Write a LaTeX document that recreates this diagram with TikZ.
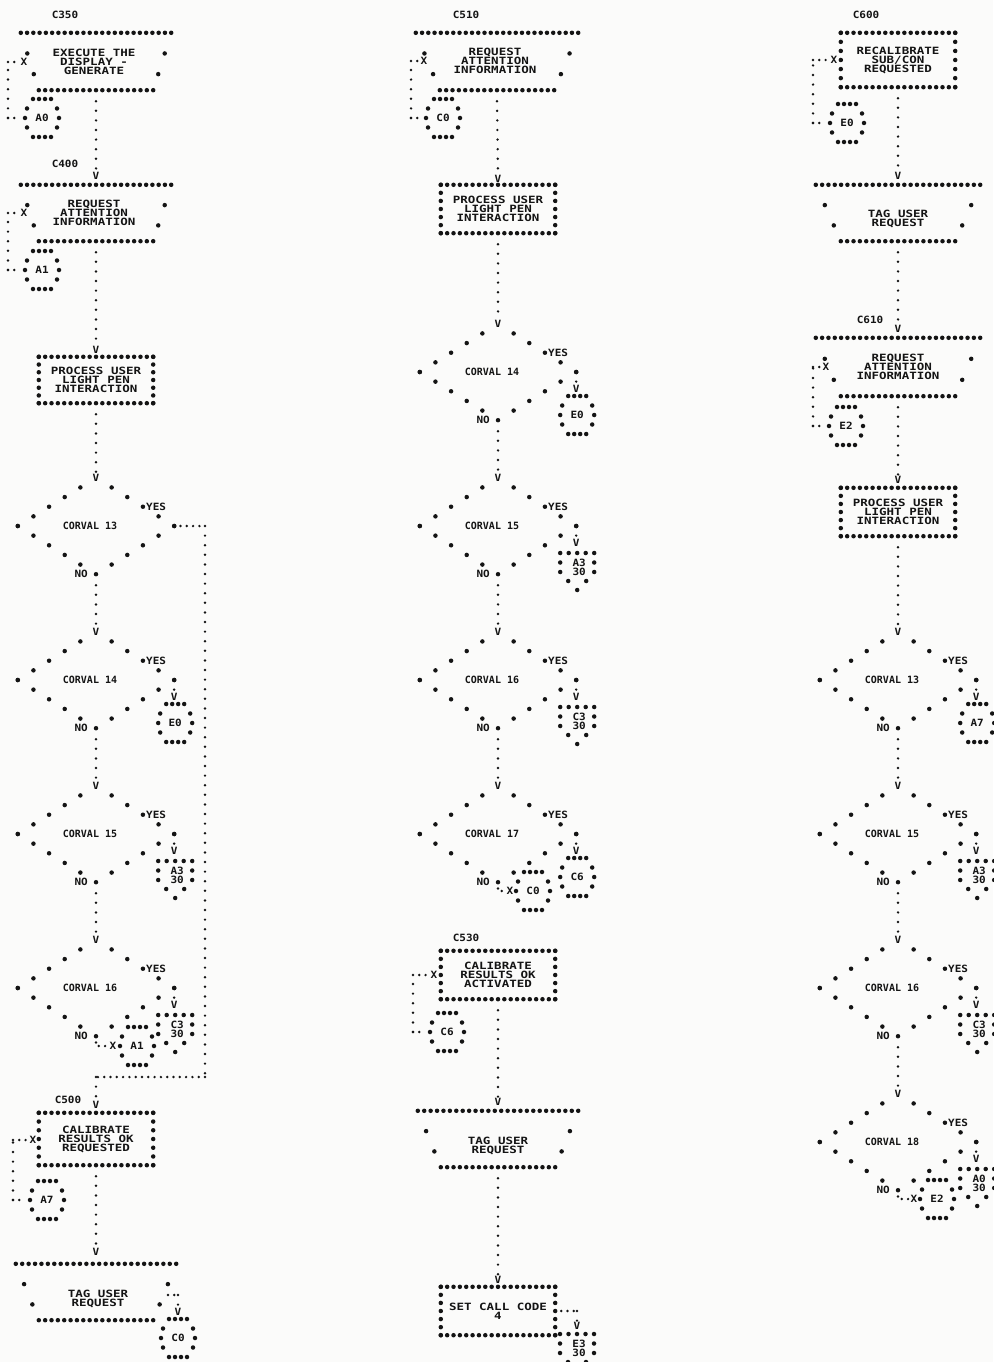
\documentclass[tikz,border=0pt]{standalone}
\usepackage{fontspec}
\usetikzlibrary{calc,shapes.geometric}
\newfontfamily\boxfam{DejaVu Sans Mono}[FakeStretch=1.25]
\newfontfamily\diafam{DejaVu Sans Mono}
\newfontfamily\labfam{DejaVu Sans Mono}[FakeStretch=1.1]
\newcommand\btxt{\boxfam\bfseries\fontsize{10}{9}\selectfont}
\newcommand\dtxt{\diafam\bfseries\fontsize{10}{9}\selectfont}
\newcommand\ltxt{\labfam\bfseries\fontsize{10}{9}\selectfont}
\definecolor{ink}{HTML}{141414}
\definecolor{paper}{HTML}{FBFBFA}
\tikzset{
  dotfill/.style={fill=ink},
  lab/.style={font=\ltxt, text=ink, inner sep=0pt, align=center},
  btext/.style={font=\btxt, text=ink, inner sep=0pt, align=center},
  dtext/.style={font=\dtxt, text=ink, inner sep=0pt},
  vflow/.style={draw=ink, line width=2.7pt, line cap=round, dash pattern=on 0pt off 9.6pt},
  hflow/.style={draw=ink, line width=2.7pt, line cap=round, dash pattern=on 0pt off 6.3pt},
  rbox/.style={btext, minimum width=114pt, minimum height=48pt},
  tbox/.style={btext, minimum width=160pt, minimum height=56pt},
  dia/.style={shape=diamond, minimum width=156pt, minimum height=96pt, inner sep=0pt},
  conn/.style={lab, minimum width=34pt, minimum height=38pt},
}
\newcommand\dr{2.25pt}
% dots along a segment
\newcommand\dotln[3]{\foreach \i in {0,...,#3}{\pgfmathsetmacro\dtf{\i/#3}\fill[dotfill] ($(#1)!\dtf!(#2)$) circle (\dr);}}
% rectangle box outline
\newcommand\rectdots[3]{\dotln{#1.north west}{#1.north east}{#2}\dotln{#1.south west}{#1.south east}{#2}\dotln{#1.north west}{#1.south west}{#3}\dotln{#1.north east}{#1.south east}{#3}}
% trapezoid outline: name, inset, top intervals
\newcommand\trapdots[3]{%
  \coordinate (#1-bl) at ($(#1.south west)+(#2pt,0pt)$);
  \coordinate (#1-br) at ($(#1.south east)+(-#2pt,0pt)$);
  \dotln{#1.north west}{#1.north east}{#3}
  \dotln{#1-bl}{#1-br}{18}
  \foreach \t in {0.36,0.72}{%
    \fill[dotfill] ($(#1.north west)!\t!(#1-bl)$) circle (\dr);
    \fill[dotfill] ($(#1.north east)!\t!(#1-br)$) circle (\dr);}}
% diamond outline (top apex left free for the arrow)
\newcommand\diadots[1]{\foreach \t in {0.2,0.4,0.6,0.8,1}{%
  \fill[dotfill] ($(#1.north)!\t!(#1.west)$) circle (\dr);
  \fill[dotfill] ($(#1.north)!\t!(#1.east)$) circle (\dr);
  \fill[dotfill] ($(#1.south)!\t!(#1.west)$) circle (\dr);
  \fill[dotfill] ($(#1.south)!\t!(#1.east)$) circle (\dr);}%
  \fill[dotfill] (#1.south) circle (\dr);}
% on-page connector ring
\newcommand\ringdots[1]{\foreach \x/\y in {-9/-19,-3/-19,3/-19,9/-19,-15/-9.5,15/-9.5,-17/0,17/0,-15/9.5,15/9.5,-9/19,-3/19,3/19,9/19}{%
  \fill[dotfill] ($(#1)+(\x,\y)$) circle (\dr);}}
% off-page connector (pentagon), #1 = top centre coordinate
\newcommand\offdots[1]{\foreach \x/\y in {-17/0,-8.5/0,0/0,8.5/0,17/0,-17/9.5,17/9.5,-17/19,17/19,-9/28,9/28,0/37}{%
  \fill[dotfill] ($(#1)+(\x,\y)$) circle (\dr);}}
% decision
\newcommand\corval[4]{%
  \node[dia] (#1) at (#2,#3) {};
  \diadots{#1}
  \node[dtext] (#1t) at ($(#1)+(-6,0)$) {CORVAL #4};
  \node[lab,anchor=west] (#1y) at ($(#1)+(50,-19)$) {YES};
  \node[lab,anchor=east] (#1n) at ($(#1)+(-8,48)$) {NO};}
\newcommand\yesring[3]{%
  \node[lab] (#2v) at ($(#1.east)+(0,17)$) {V};
  \draw[vflow] (#1.east) -- (#2v.north);
  \node[conn] (#2) at ($(#1.east)+(1,43)$) {#3};
  \ringdots{#2}}
\newcommand\yesoff[4]{%
  \node[lab] (#2v) at ($(#1.east)+(0,17)$) {V};
  \draw[vflow] (#1.east) -- (#2v.north);
  \coordinate (#2top) at ($(#1.east)+(1,27)$);
  \offdots{#2top}
  \node[lab] (#2) at ($(#1.east)+(3,41)$) {#3\\#4};}
\newcommand\downflow[2]{\draw[vflow] ($(#1.south)+(0,11)$) -- (#2.north);}

\begin{document}
\begin{tikzpicture}[x=1pt,y=-1pt]
\fill[paper] (0,0) rectangle (993,1362);
\useasboundingbox (0,0) rectangle (993,1362);

%%%%%%%%%%%%%%%% COLUMN 1 %%%%%%%%%%%%%%%%
\node[lab] (lC350) at (65,15) {C350};
\node[tbox, minimum width=150pt, minimum height=57pt] (b1) at (96,61.5) {};
\trapdots{b1}{18}{24}
\node[btext] (b1t) at (94,62) {EXECUTE THE\\DISPLAY -\\GENERATE};
\node[lab] (x1) at (24,62) {X};
\node[conn] (a0) at (42,118) {A0};
\ringdots{a0}
\coordinate (j1a) at (8,62);
\coordinate (j1b) at (8,118);
\draw[vflow] (j1b) -- (j1a);
\draw[hflow, shorten >=1pt] (j1a) -- (x1.west);
\draw[hflow, shorten >=6pt] (j1b) -- (a0.west);

\node[lab] (lC400) at (65,164) {C400};
\node[lab] (v1) at (96,176) {V};
\downflow{b1}{v1}
\node[tbox, minimum width=150pt] (b2) at (96,213) {};
\trapdots{b2}{18}{24}
\node[btext] (b2t) at (94,213) {REQUEST\\ATTENTION\\INFORMATION};
\node[lab] (x2) at (24,213) {X};
\node[conn] (a1) at (42,270) {A1};
\ringdots{a1}
\coordinate (j2a) at (8,213);
\coordinate (j2b) at (8,270);
\draw[vflow] (j2b) -- (j2a);
\draw[hflow, shorten >=1pt] (j2a) -- (x2.west);
\draw[hflow, shorten >=6pt] (j2b) -- (a1.west);

\node[lab] (v2) at (96,350) {V};
\downflow{b2}{v2}
\node[rbox, minimum height=46pt] (p1) at (96,380) {PROCESS USER\\LIGHT PEN\\INTERACTION};
\rectdots{p1}{18}{6}
\node[lab] (v3) at (96,478) {V};
\downflow{p1}{v3}

\corval{d13}{96}{526}{13}
\node[lab] (v4) at (96,632) {V};
\downflow{d13}{v4}
\corval{d14}{96}{680}{14}
\yesring{d14}{e0a}{E0}
\node[lab] (v5) at (96,786) {V};
\downflow{d14}{v5}
\corval{d15}{96}{834}{15}
\yesoff{d15}{a3a}{A3}{30}
\node[lab] (v6) at (96,940) {V};
\downflow{d15}{v6}
\corval{d16}{96}{988}{16}
\yesoff{d16}{c3a}{C3}{30}
\node[lab] (x16) at (113,1046) {X};
\node[conn] (a1b) at (137,1046) {A1};
\ringdots{a1b}
\draw[hflow] (d16.south) |- (x16.west);

% YES of CORVAL 13 round to C500
\coordinate (l1) at (205,526);
\coordinate (l2) at (205,1077);
\coordinate (l3) at (96,1077);
\draw[hflow] (d13.east) -- (l1);
\draw[vflow] (l1) -- (l2);
\draw[hflow] (l2) -- (l3);
\node[lab] (lC500) at (68,1100) {C500};
\node[lab] (v500) at (96,1105) {V};
\draw[vflow] (l3) -- (v500.north);
\node[rbox, minimum height=52pt] (c500) at (96,1139) {CALIBRATE\\RESULTS OK\\REQUESTED};
\rectdots{c500}{18}{6}
\node[lab] (x500) at (33,1140) {X};
\node[conn] (a7) at (47,1200) {A7};
\ringdots{a7}
\coordinate (j5a) at (13,1140);
\coordinate (j5b) at (13,1200);
\draw[vflow] (j5b) -- (j5a);
\draw[hflow, shorten >=1pt] (j5a) -- (x500.west);
\draw[hflow, shorten >=6pt] (j5b) -- (a7.west);

\node[lab] (v7) at (96,1252) {V};
\downflow{c500}{v7}
\node[tbox] (t1) at (96,1292) {};
\trapdots{t1}{23}{25}
\node[btext] (t1t) at (98,1299) {TAG USER\\REQUEST};
\coordinate (t1x) at (168,1295);
\coordinate (t1c) at (178,1295);
\draw[hflow] (t1x) -- (t1c);
\node[lab] (vc0) at (178,1312) {V};
\draw[vflow] (t1c) -- (vc0.north);
\node[conn] (c0a) at (178,1338) {C0};
\ringdots{c0a}

%%%%%%%%%%%%%%%% COLUMN 2 %%%%%%%%%%%%%%%%
\node[lab] (lC510) at (466,15) {C510};
\node[tbox, minimum width=162pt, minimum height=57pt] (b3) at (497,61.5) {};
\trapdots{b3}{24}{26}
\node[btext] (b3t) at (495,61) {REQUEST\\ATTENTION\\INFORMATION};
\node[lab] (x3) at (424,61) {X};
\node[conn] (c0b) at (443,118) {C0};
\ringdots{c0b}
\coordinate (j3a) at (411,61);
\coordinate (j3b) at (411,118);
\draw[vflow] (j3b) -- (j3a);
\draw[hflow, shorten >=1pt] (j3a) -- (x3.west);
\draw[hflow, shorten >=6pt] (j3b) -- (c0b.west);

\node[lab] (v8) at (498,179) {V};
\downflow{b3}{v8}
\node[rbox] (p2) at (498,209) {PROCESS USER\\LIGHT PEN\\INTERACTION};
\rectdots{p2}{18}{6}
\node[lab] (v9) at (498,324) {V};
\downflow{p2}{v9}

\corval{e14}{498}{372}{14}
\yesring{e14}{e0b}{E0}
\node[lab] (v10) at (498,478) {V};
\downflow{e14}{v10}
\corval{e15}{498}{526}{15}
\yesoff{e15}{a3b}{A3}{30}
\node[lab] (v11) at (498,632) {V};
\downflow{e15}{v11}
\corval{e16}{498}{680}{16}
\yesoff{e16}{c3b}{C3}{30}
\node[lab] (v12) at (498,786) {V};
\downflow{e16}{v12}
\corval{e17}{498}{834}{17}
\yesring{e17}{c6a}{C6}
\node[lab] (x17) at (510,891) {X};
\node[conn] (c0c) at (533,891) {C0};
\ringdots{c0c}
\draw[hflow] (e17.south) |- (x17.west);

\node[lab] (lC530) at (466,938) {C530};
\node[rbox] (c530) at (498,975) {CALIBRATE\\RESULTS OK\\ACTIVATED};
\rectdots{c530}{18}{6}
\node[lab] (x530) at (434,975) {X};
\node[conn] (c6b) at (447,1032) {C6};
\ringdots{c6b}
\coordinate (j4a) at (413,975);
\coordinate (j4b) at (413,1032);
\draw[vflow] (j4b) -- (j4a);
\draw[hflow, shorten >=1pt] (j4a) -- (x530.west);
\draw[hflow, shorten >=6pt] (j4b) -- (c6b.west);

\node[lab] (v13) at (498,1102) {V};
\downflow{c530}{v13}
\node[tbox] (t2) at (498,1139) {};
\trapdots{t2}{23}{25}
\node[btext] (t2t) at (498,1146) {TAG USER\\REQUEST};
\node[lab] (v14) at (498,1280) {V};
\downflow{t2}{v14}
\node[rbox] (s1) at (498,1311) {SET CALL CODE\\4};
\rectdots{s1}{18}{6}
\coordinate (s1c) at (577,1311);
\draw[hflow, shorten <=6pt] (s1.east) -- (s1c);
\node[lab] (ve3) at (577,1326) {V};
\draw[vflow] (s1c) -- (ve3.north);
\coordinate (e3top) at (577,1334);
\offdots{e3top}
\node[lab] (e3) at (579,1348) {E3\\30};

%%%%%%%%%%%%%%%% COLUMN 3 %%%%%%%%%%%%%%%%
\node[lab] (lC600) at (866,15) {C600};
\node[rbox, minimum height=54pt] (r600) at (898,60) {RECALIBRATE\\SUB/CON\\REQUESTED};
\rectdots{r600}{18}{6}
\node[lab] (x600) at (834,60) {X};
\node[conn] (e0c) at (847,123) {E0};
\ringdots{e0c}
\coordinate (j6a) at (813,60);
\coordinate (j6b) at (813,123);
\draw[vflow] (j6b) -- (j6a);
\draw[hflow, shorten >=1pt] (j6a) -- (x600.west);
\draw[hflow, shorten >=6pt] (j6b) -- (e0c.west);

\node[lab] (v15) at (898,176) {V};
\downflow{r600}{v15}
\node[tbox, minimum width=164pt] (t3) at (898,213) {};
\trapdots{t3}{25}{26}
\node[btext] (t3t) at (898,219) {TAG USER\\REQUEST};
\node[lab] (lC610) at (870,320) {C610};
\node[lab] (v16) at (898,329) {V};
\downflow{t3}{v16}
\node[tbox, minimum width=164pt, minimum height=58pt] (b4) at (898,367) {};
\trapdots{b4}{25}{26}
\node[btext] (b4t) at (898,367) {REQUEST\\ATTENTION\\INFORMATION};
\node[lab] (x4) at (826,367) {X};
\node[conn] (e2a) at (846,426) {E2};
\ringdots{e2a}
\coordinate (j7a) at (813,367);
\coordinate (j7b) at (813,426);
\draw[vflow] (j7b) -- (j7a);
\draw[hflow, shorten >=1pt] (j7a) -- (x4.west);
\draw[hflow, shorten >=6pt] (j7b) -- (e2a.west);

\node[lab] (v17) at (898,480) {V};
\downflow{b4}{v17}
\node[rbox] (p3) at (898,512) {PROCESS USER\\LIGHT PEN\\INTERACTION};
\rectdots{p3}{18}{6}
\node[lab] (v18) at (898,632) {V};
\downflow{p3}{v18}

\corval{f13}{898}{680}{13}
\yesring{f13}{a7b}{A7}
\node[lab] (v19) at (898,786) {V};
\downflow{f13}{v19}
\corval{f15}{898}{834}{15}
\yesoff{f15}{a3c}{A3}{30}
\node[lab] (v20) at (898,940) {V};
\downflow{f15}{v20}
\corval{f16}{898}{988}{16}
\yesoff{f16}{c3c}{C3}{30}
\node[lab] (v21) at (898,1094) {V};
\downflow{f16}{v21}
\corval{f18}{898}{1142}{18}
\yesoff{f18}{a0c}{A0}{30}
\node[lab] (x18) at (914,1199) {X};
\node[conn] (e2b) at (937,1199) {E2};
\ringdots{e2b}
\draw[hflow] (f18.south) |- (x18.west);
\end{tikzpicture}
\end{document}
